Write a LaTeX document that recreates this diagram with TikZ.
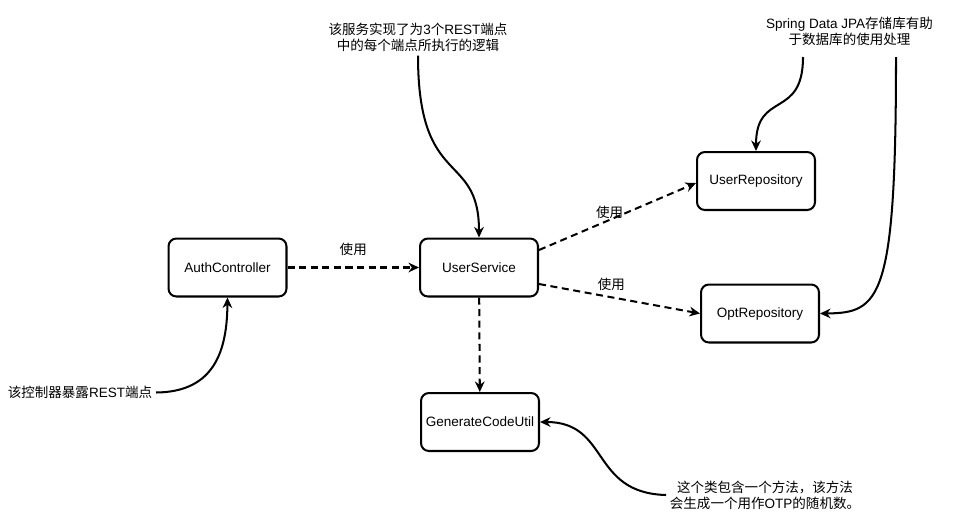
\documentclass[tikz,border=0pt]{standalone}
\usepackage{fontspec}
\setmainfont{Liberation Sans}
\newfontfamily\cjk{Noto Sans CJK SC}
\newcommand{\zh}[1]{{\cjk #1}}
\usetikzlibrary{positioning,arrows.meta}
\tikzset{>={Stealth[length=6pt,width=5.5pt]}}

\begin{document}
\begin{tikzpicture}[
	x=0.02cm, y=-0.02cm,
	font=\fontsize{7.7}{9.2}\selectfont,
	box/.style = {% class boxes
		draw, line width=1.15pt, rounded corners=4.5pt,
		minimum width=2.36cm, minimum height=1.16cm, inner sep=0pt},
	note/.style = {% free text notes
		align=center, inner sep=2pt},
	uses/.style = {% dashed links
		->, line width=1.15pt, dash pattern=on 4pt off 2.6pt},
	points/.style = {% note pointers
		->, line width=1.15pt},
	lbl/.style = {% link labels
		inner sep=1pt},
	]
	\useasboundingbox (0,0) rectangle (962,528);

	% classes
	\node[box] (auth) at (227.5,267.5) {AuthController};
	\node[box] (svc) at (479,267.5) {UserService};
	\node[box] (urepo) at (756,181) {UserRepository};
	\node[box] (orepo) at (760,313.5) {OptRepository};
	\node[box] (util) at (480,422) {GenerateCodeUtil};

	% notes
	\node[note] (svcnote) at (418,37.5)
		{\zh{该服务实现了为}3\zh{个}REST\zh{端点}\\\zh{中的每个端点所执行的逻辑}};
	\node[note] (springnote) at (849.5,31.5)
		{Spring Data JPA\zh{存储库有助}\\\zh{于数据库的使用处理}};
	\node[note] (ctrlnote) at (80,392.5) {\zh{该控制器暴露}REST\zh{端点}};
	\node[note] (utilnote) at (765,495)
		{\zh{这个类包含一个方法，该方法}\\\zh{会生成一个用作}OTP\zh{的随机数。}};
	\coordinate (springa) at (803,57);
	\coordinate (springb) at (896,57);

	% dashed links
	\draw[uses] (auth) -- node[lbl,above=5pt] {\zh{使用}} (svc);
	\draw[uses] (svc.east |- 0,250) -- node[lbl,pos=0.45,above=-1pt] {\zh{使用}} (urepo.west |- 0,183);
	\draw[uses] (svc.east |- 0,284) -- node[lbl,pos=0.45,above=2pt] {\zh{使用}} (orepo.west);
	\draw[uses] (svc) -- (util);

	% note pointers
	\draw[points] (svcnote.south) .. controls (418,190) and (479,150) .. (svc.north);
	\draw[points] (springa) .. controls (803,120) and (756,90) .. (urepo.north);
	\draw[points] (springb) .. controls (896,300) and (880,313) .. (orepo.east);
	\draw[points] (ctrlnote.east) .. controls (215,392) and (227,350) .. (auth.south);
	\draw[points] (utilnote.west) .. controls (590,493) and (610,422) .. (util.east);

\end{tikzpicture}
\end{document}
